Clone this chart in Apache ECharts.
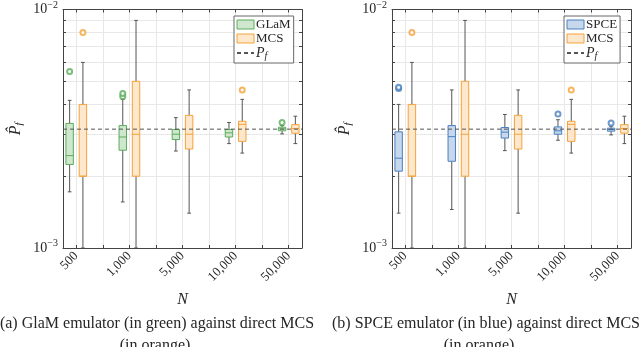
<!DOCTYPE html>
<html>
<head>
<meta charset="utf-8">
<script src="https://cdn.jsdelivr.net/npm/echarts@6/dist/echarts.min.js"></script>
<style>
  html, body { margin: 0; background: #fff; }
  #chart { width: 640px; height: 347px; }
</style>
</head>
<body>
<div id="chart"></div>
<script>
const N_LABELS = ['500', '1,000', '5,000', '10,000', '50,000']
const X_TICKS = [1, 1.5, 2, 2.5, 3, 3.5, 4, 4.5, 5]
const Y_TICKS = [0.001, 0.002, 0.003, 0.004, 0.005, 0.006, 0.007, 0.008, 0.009, 0.01]
const PF = 3.15e-3

// [min, q1, median, q3, max] per N
const GLAM_STATS = [
  [1.72e-3, 2.24e-3, 2.44e-3, 3.33e-3, 4.16e-3],
  [1.56e-3, 2.57e-3, 2.92e-3, 3.26e-3, 4.2e-3],
  [2.55e-3, 2.85e-3, 3.0e-3, 3.14e-3, 3.52e-3],
  [2.74e-3, 2.92e-3, 3.04e-3, 3.14e-3, 3.36e-3],
  [3.01e-3, 3.10e-3, 3.16e-3, 3.21e-3, 3.26e-3],
]
const SPCE_STATS = [
  [1.40e-3, 2.10e-3, 2.38e-3, 3.07e-3, 4.0e-3],
  [1.45e-3, 2.31e-3, 2.93e-3, 3.26e-3, 4.6e-3],
  [2.56e-3, 2.89e-3, 3.06e-3, 3.2e-3, 3.63e-3],
  [2.83e-3, 3.0e-3, 3.1e-3, 3.22e-3, 3.45e-3],
  [2.98e-3, 3.09e-3, 3.14e-3, 3.18e-3, 3.24e-3],
]
const MCS_STATS = [
  [1e-3, 2e-3, 2e-3, 4e-3, 6e-3],
  [1e-3, 2e-3, 3e-3, 5e-3, 9e-3],
  [1.4e-3, 2.6e-3, 3.0e-3, 3.6e-3, 4.6e-3],
  [2.5e-3, 2.8e-3, 3.3e-3, 3.4e-3, 4.2e-3],
  [2.74e-3, 3.03e-3, 3.17e-3, 3.29e-3, 3.57e-3],
]
// outliers: [N index, value]
const GLAM_OUT = [[0, 5.5e-3], [1, 4.32e-3], [1, 4.44e-3], [4, 3.36e-3]]
const SPCE_OUT = [[0, 4.66e-3], [0, 4.72e-3], [3, 3.65e-3], [4, 3.34e-3]]
const MCS_OUT = [[0, 8e-3], [3, 4.6e-3]]

const SERIF = "'Liberation Serif', 'DejaVu Serif', serif"
const AXIS_C = '#444'
const GRID_C = '#e8e8e8'
const WHISKER_C = '#555'
const TEXT_C = '#262626'
const GREEN = { edge: '#5aad5a', fill: '#cfe7cf' }
const ORANGE = { edge: '#f5a238', fill: '#fde8cd' }
const BLUE = { edge: '#4a80c0', fill: '#c7d7ec' }
const SHIFT = 0.125
const BOX_W = 0.14
const CAP_W = 0.07

function boxRender(col) {
  return function (params, api) {
    const x = api.value(0)
    const lo = api.value(1), q1 = api.value(2), md = api.value(3), q3 = api.value(4), hi = api.value(5)
    const c = (dx, v) => api.coord([x + dx, v])
    const seg = (dx1, v1, dx2, v2, stroke) => {
      const a = c(dx1, v1), b = c(dx2, v2)
      return { type: 'line', shape: { x1: a[0], y1: a[1], x2: b[0], y2: b[1] }, style: { stroke, lineWidth: 1 } }
    }
    const tl = c(-BOX_W / 2, q3), br = c(BOX_W / 2, q1)
    return {
      type: 'group',
      children: [
        seg(0, lo, 0, q1, WHISKER_C),
        seg(0, q3, 0, hi, WHISKER_C),
        seg(-CAP_W / 2, lo, CAP_W / 2, lo, WHISKER_C),
        seg(-CAP_W / 2, hi, CAP_W / 2, hi, WHISKER_C),
        {
          type: 'rect',
          shape: { x: tl[0], y: tl[1], width: br[0] - tl[0], height: br[1] - tl[1] },
          style: { fill: col.fill, stroke: col.edge, lineWidth: 1 },
        },
        seg(-BOX_W / 2, md, BOX_W / 2, md, col.edge),
      ],
    }
  }
}

function boxSeries(name, stats, gi, shift, col) {
  return {
    name, type: 'custom', xAxisIndex: gi * 2, yAxisIndex: gi * 2,
    data: stats.map((s, i) => [i + 1 + shift, ...s]),
    encode: { x: 0, y: [1, 2, 3, 4, 5] },
    renderItem: boxRender(col), silent: true, clip: true,
  }
}

function outSeries(name, pts, gi, shift, col) {
  return {
    name, type: 'scatter', xAxisIndex: gi * 2, yAxisIndex: gi * 2,
    data: pts.map(([i, v]) => [i + 1 + shift, v]),
    symbol: 'emptyCircle', symbolSize: 5,
    itemStyle: { color: col.edge, borderColor: col.edge, borderWidth: 1.2 },
    silent: true,
  }
}

function pfSeries(gi) {
  return {
    name: 'Pf', type: 'line', xAxisIndex: gi * 2, yAxisIndex: gi * 2,
    data: [[0.75, PF], [5.25, PF]], symbol: 'none', silent: true,
    lineStyle: { color: '#555', width: 1, type: [4, 3] }, z: 5,
  }
}

function xAxes(gi) {
  return [{
    type: 'value', gridIndex: gi, min: 0.75, max: 5.25,
    axisLine: { onZero: false, lineStyle: { color: AXIS_C } },
    axisTick: { inside: true, length: 3, customValues: X_TICKS, lineStyle: { color: AXIS_C } },
    axisLabel: {
      customValues: [1, 2, 3, 4, 5], formatter: (v) => N_LABELS[Math.round(v) - 1],
      rotate: 45, margin: 6, fontFamily: SERIF, fontSize: 13, color: TEXT_C,
    },
    splitLine: { show: true, lineStyle: { color: GRID_C } },
    name: 'N', nameLocation: 'middle', nameGap: 44,
    nameTextStyle: { fontFamily: SERIF, fontStyle: 'italic', fontSize: 16, color: TEXT_C },
  }, {
    type: 'value', gridIndex: gi, min: 0.75, max: 5.25, position: 'top',
    axisLine: { onZero: false, lineStyle: { color: AXIS_C } },
    axisTick: { inside: true, length: 3, customValues: X_TICKS, lineStyle: { color: AXIS_C } },
    axisLabel: { show: false }, splitLine: { show: false },
  }]
}

function yAxes(gi) {
  return [{
    type: 'log', logBase: 10, gridIndex: gi, min: 0.001, max: 0.01,
    axisLine: { show: true, onZero: false, lineStyle: { color: AXIS_C } },
    axisTick: { show: true, inside: true, length: 3, customValues: Y_TICKS, lineStyle: { color: AXIS_C } },
    axisLabel: {
      margin: 5, color: TEXT_C,
      formatter: (v) => '{b|10}{s|−' + Math.round(-Math.log10(v)) + '}',
      rich: {
        b: { fontFamily: SERIF, fontSize: 14, color: TEXT_C },
        s: { fontFamily: SERIF, fontSize: 10, color: TEXT_C, padding: [0, 0, 9, 0] },
      },
    },
    splitLine: { show: true, lineStyle: { color: GRID_C } },
    name: '{p|P\u0302}{s|f}', nameLocation: 'middle', nameGap: 38,
    nameTextStyle: {
      rich: {
        p: { fontFamily: SERIF, fontStyle: 'italic', fontSize: 16, color: TEXT_C },
        s: { fontFamily: SERIF, fontStyle: 'italic', fontSize: 11, color: TEXT_C, padding: [8, 0, 0, 0] },
      },
    },
  }, {
    type: 'log', logBase: 10, gridIndex: gi, min: 0.001, max: 0.01, position: 'right',
    axisLine: { show: true, onZero: false, lineStyle: { color: AXIS_C } },
    axisTick: { show: true, inside: true, length: 3, customValues: Y_TICKS, lineStyle: { color: AXIS_C } },
    axisLabel: { show: false }, splitLine: { show: false },
  }]
}

function legendFor(left, emu, col) {
  return {
    left, top: 16, orient: 'vertical', itemWidth: 17, itemHeight: 9, itemGap: 1,
    padding: [2, 3, 2, 2], backgroundColor: '#fff', borderColor: '#666', borderWidth: 1,
    selectedMode: false,
    data: [
      { name: emu, icon: 'rect', itemStyle: { color: col.fill, borderColor: col.edge, borderWidth: 1 } },
      { name: 'MCS', icon: 'rect', itemStyle: { color: ORANGE.fill, borderColor: ORANGE.edge, borderWidth: 1 } },
      { name: 'Pf', itemStyle: { color: 'rgba(0,0,0,0)', borderColor: 'rgba(0,0,0,0)', borderWidth: 0 } },
    ],
    formatter: (n) => (n === 'Pf' ? '{i|P}{f|f}' : n),
    textStyle: {
      fontFamily: SERIF, fontSize: 13, color: TEXT_C, padding: [0, 0, 0, -3],
      rich: {
        i: { fontFamily: SERIF, fontStyle: 'italic', fontSize: 14, color: TEXT_C },
        f: { fontFamily: SERIF, fontStyle: 'italic', fontSize: 10, color: TEXT_C, padding: [6, 0, 0, 0] },
      },
    },
  }
}

const chart = echarts.init(document.getElementById('chart'))
chart.setOption({
  animation: false,
  grid: [
    { left: 63, top: 9, width: 239, height: 239 },
    { left: 392, top: 9, width: 239, height: 239 },
  ],
  xAxis: [...xAxes(0), ...xAxes(1)],
  yAxis: [...yAxes(0), ...yAxes(1)],
  legend: [legendFor(234, 'GLaM', GREEN), legendFor(564, 'SPCE', BLUE)],
  series: [
    boxSeries('GLaM', GLAM_STATS, 0, -SHIFT, GREEN),
    boxSeries('MCS', MCS_STATS, 0, SHIFT, ORANGE),
    outSeries('GLaM outliers', GLAM_OUT, 0, -SHIFT, GREEN),
    outSeries('MCS outliers', MCS_OUT, 0, SHIFT, ORANGE),
    pfSeries(0),
    boxSeries('SPCE', SPCE_STATS, 1, -SHIFT, BLUE),
    boxSeries('MCS', MCS_STATS, 1, SHIFT, ORANGE),
    outSeries('SPCE outliers', SPCE_OUT, 1, -SHIFT, BLUE),
    outSeries('MCS outliers', MCS_OUT, 1, SHIFT, ORANGE),
    pfSeries(1),
  ],
  graphic: [
    { type: 'text', x: 157, y: 324, style: { text: '(a) GlaM emulator (in green) against direct MCS', font: "16px 'Liberation Serif'", fill: TEXT_C, textAlign: 'center', textVerticalAlign: 'middle' } },
    { type: 'text', x: 155, y: 346, style: { text: '(in orange)', font: "16px 'Liberation Serif'", fill: TEXT_C, textAlign: 'center', textVerticalAlign: 'middle' } },
    { type: 'text', x: 486, y: 324, style: { text: '(b) SPCE emulator (in blue) against direct MCS', font: "16px 'Liberation Serif'", fill: TEXT_C, textAlign: 'center', textVerticalAlign: 'middle' } },
    { type: 'text', x: 479, y: 346, style: { text: '(in orange)', font: "16px 'Liberation Serif'", fill: TEXT_C, textAlign: 'center', textVerticalAlign: 'middle' } },
  ],
})
</script>
</body>
</html>
